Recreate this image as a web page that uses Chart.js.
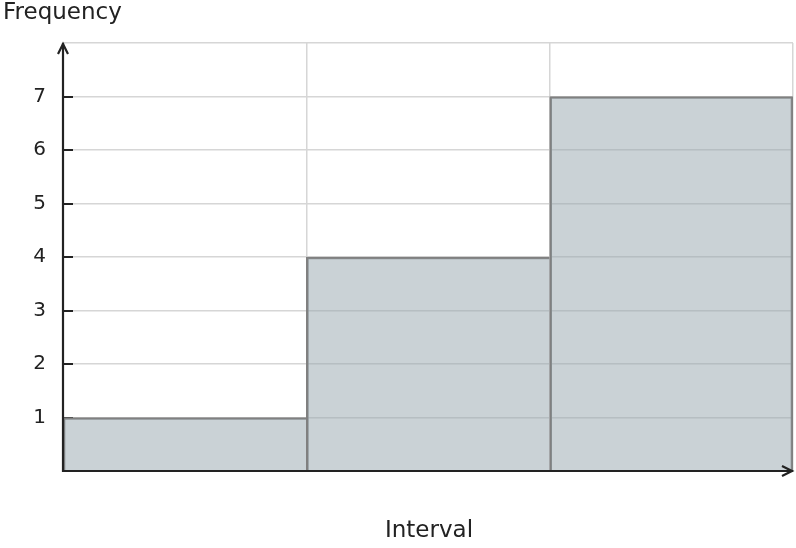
<!DOCTYPE html>
<html>
<head>
<meta charset="utf-8">
<script src="https://cdn.jsdelivr.net/npm/chart.js@4/dist/chart.umd.min.js"></script>
<style>
  html, body { margin: 0; padding: 0; background: #fff; }
  #wrap { width: 796px; height: 548px; }
</style>
</head>
<body>
<div id="wrap"><canvas id="histChart"></canvas></div>
<script>
const intervals = ['Interval 1', 'Interval 2', 'Interval 3'];
const frequencies = [1, 4, 7];
const yTicks = [1, 2, 3, 4, 5, 6, 7];
const yMin = 0;
const yMax = 8;

const FONT = "'DejaVu Sans', sans-serif";
const AXIS_COLOR = '#222222';

// axes with arrow heads, inner tick marks and the two titles
const axisDecor = {
    id: 'axisDecor',
    beforeDatasetsDraw(chart) {
        const { ctx, chartArea, scales } = chart;
        const y = scales.y;
        ctx.save();
        ctx.strokeStyle = AXIS_COLOR;
        ctx.lineWidth = 2;
        ctx.beginPath();
        yTicks.forEach(v => {
            const py = Math.round(y.getPixelForValue(v));
            ctx.moveTo(chartArea.left, py);
            ctx.lineTo(chartArea.left + 10, py);
        });
        ctx.stroke();
        ctx.restore();
    },
    afterDatasetsDraw(chart) {
        const { ctx, chartArea } = chart;
        const { left, right, top, bottom } = chartArea;
        ctx.save();
        ctx.strokeStyle = AXIS_COLOR;
        ctx.lineWidth = 2.2;
        ctx.lineCap = 'butt';
        ctx.beginPath();
        ctx.moveTo(left, bottom + 1);
        ctx.lineTo(left, top);
        ctx.moveTo(left - 1, bottom);
        ctx.lineTo(right, bottom);
        ctx.stroke();
        // arrow heads
        ctx.beginPath();
        ctx.moveTo(left - 5, top + 11);
        ctx.lineTo(left, top + 1);
        ctx.lineTo(left + 5, top + 11);
        ctx.moveTo(right - 11, bottom - 5);
        ctx.lineTo(right - 1, bottom);
        ctx.lineTo(right - 11, bottom + 5);
        ctx.stroke();

        ctx.fillStyle = '#222222';
        ctx.font = '23px ' + FONT;
        ctx.textBaseline = 'middle';
        ctx.textAlign = 'left';
        ctx.fillText('Frequency', 3, 13);
        ctx.textAlign = 'center';
        ctx.fillText('Interval', (left + right) / 2 + 1, 531);
        ctx.restore();
    }
};

const ctx = document.getElementById('histChart').getContext('2d');
const histChart = new Chart(ctx, {
    type: 'bar',
    data: {
        labels: intervals,
        datasets: [{
            label: 'Frequency',
            data: frequencies,
            backgroundColor: 'rgba(150, 166, 173, 0.5)',
            borderColor: '#808080',
            borderWidth: c => c.dataIndex === frequencies.length - 1
                ? { top: 2, left: 2, right: 2, bottom: 0 }
                : { top: 2, left: 2, right: 0, bottom: 0 },
            borderSkipped: false,
            barPercentage: 1,
            categoryPercentage: 1
        }]
    },
    options: {
        responsive: true,
        maintainAspectRatio: false,
        animation: false,
        layout: {
            padding: { top: 43, right: 3, left: 0, bottom: 0 }
        },
        plugins: {
            legend: { display: false },
            tooltip: { enabled: false }
        },
        scales: {
            x: {
                grid: {
                    offset: true,
                    color: '#d6d6d6',
                    lineWidth: 1.5,
                    drawTicks: false
                },
                border: { display: false },
                ticks: { display: false },
                afterFit(scale) { scale.height = 77; }
            },
            y: {
                min: yMin,
                max: yMax,
                grid: {
                    color: '#d6d6d6',
                    lineWidth: 1.5,
                    drawTicks: false
                },
                border: { display: false },
                ticks: {
                    stepSize: 1,
                    padding: 17,
                    color: '#222222',
                    font: { family: FONT, size: 20 },
                    callback: v => yTicks.includes(v) ? String(v) : ''
                },
                afterFit(scale) { scale.width = 63; }
            }
        }
    },
    plugins: [axisDecor]
});
</script>
</body>
</html>
